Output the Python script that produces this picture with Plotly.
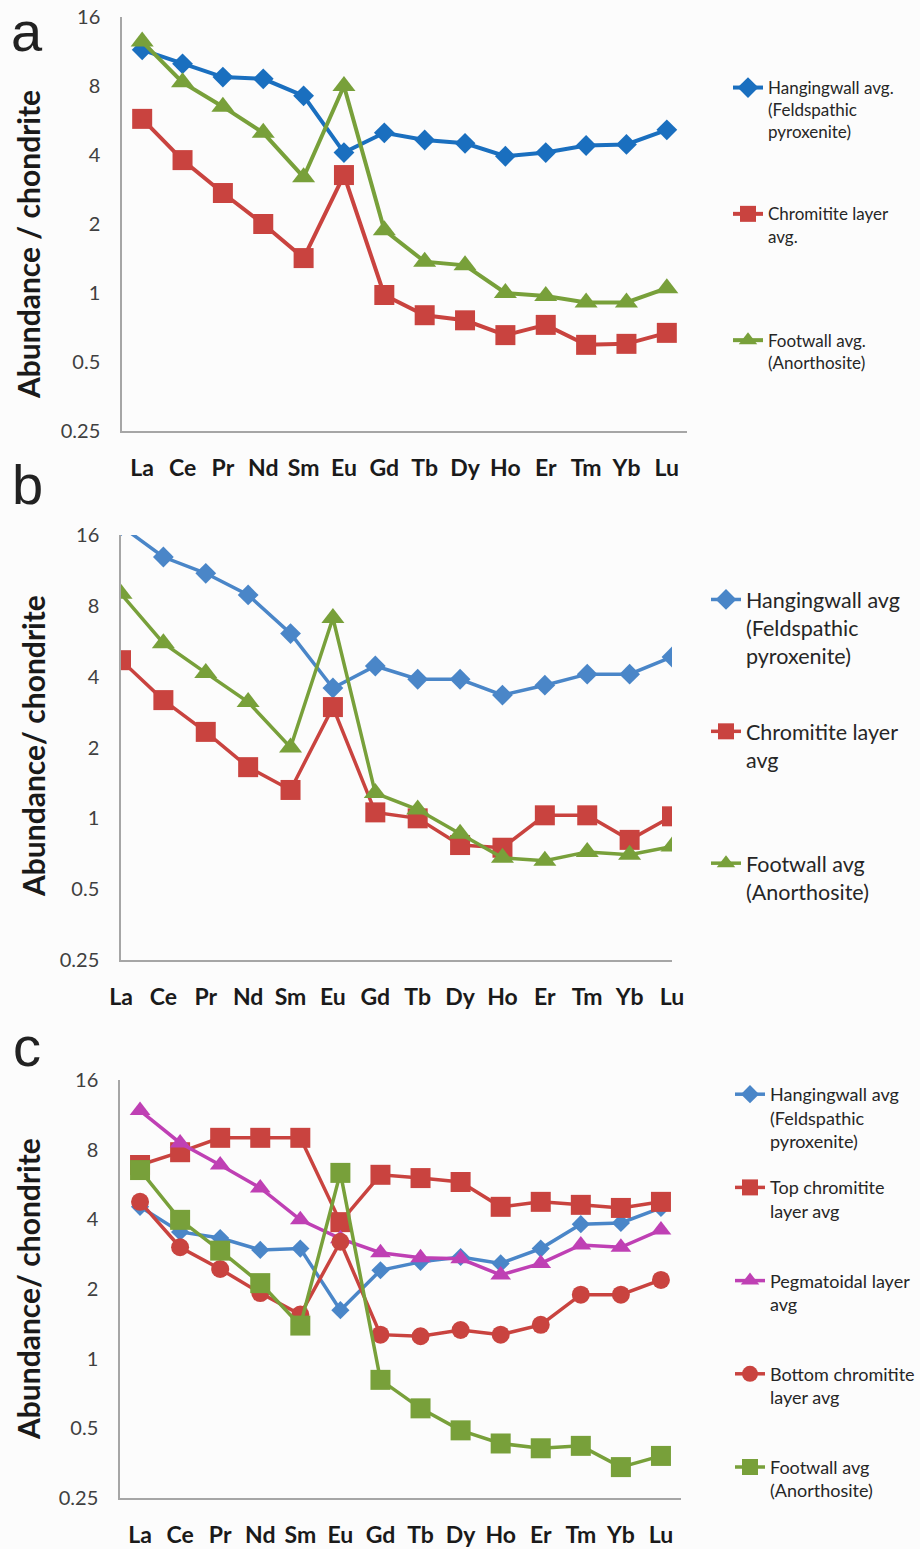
import plotly.graph_objects as go

W, H = 920, 1549

elements = ["La", "Ce", "Pr", "Nd", "Sm", "Eu", "Gd", "Tb", "Dy", "Ho", "Er", "Tm", "Yb", "Lu"]
ytick_vals = [0.25, 0.5, 1, 2, 4, 8, 16]
ytick_text = ["0.25", "0.5", "1", "2", "4", "8", "16"]

# Panel a
a_hanging = [11.5, 10.0, 8.75, 8.6, 7.25, 4.1, 5.0, 4.65, 4.5, 3.95, 4.1, 4.4, 4.45, 5.15]
a_chromitite = [5.75, 3.8, 2.73, 2.0, 1.42, 3.27, 0.98, 0.8, 0.76, 0.655, 0.726, 0.594, 0.6, 0.67]
a_footwall = [12.5, 8.3, 6.5, 5.0, 3.2, 8.0, 1.88, 1.37, 1.32, 1.0, 0.97, 0.91, 0.91, 1.05]

# Panel b
b_hanging = [17.5, 12.9, 11.0, 8.9, 6.1, 3.58, 4.44, 3.9, 3.9, 3.34, 3.68, 4.1, 4.1, 4.85]
b_chromitite = [4.7, 3.18, 2.33, 1.65, 1.32, 2.97, 1.06, 1.0, 0.77, 0.75, 1.03, 1.03, 0.81, 1.02]
b_footwall = [9.0, 5.55, 4.15, 3.12, 2.0, 7.1, 1.28, 1.09, 0.86, 0.68, 0.66, 0.72, 0.7, 0.76]

# Panel c
c_hanging = [4.53, 3.53, 3.32, 2.95, 2.99, 1.62, 2.41, 2.62, 2.75, 2.58, 2.99, 3.81, 3.86, 4.48]
c_top_chromitite = [6.87, 7.8, 9.0, 9.0, 9.0, 3.89, 6.23, 6.03, 5.8, 4.53, 4.76, 4.62, 4.48, 4.76]
c_pegmatoidal = [11.8, 8.55, 6.87, 5.47, 3.98, 3.3, 2.87, 2.73, 2.7, 2.3, 2.58, 3.1, 3.03, 3.6]
c_bottom_chromitite = [4.76, 3.03, 2.44, 1.92, 1.55, 3.2, 1.27, 1.25, 1.33, 1.27, 1.4, 1.89, 1.89, 2.19]
c_footwall = [6.53, 3.98, 2.93, 2.12, 1.39, 6.35, 0.81, 0.61, 0.49, 0.43, 0.41, 0.42, 0.34, 0.38]

BLUE_A = "#1a6fbf"
BLUE = "#4a86c8"
RED = "#c9433f"
GREEN = "#78a03a"
MAGENTA = "#bf40b4"

FONT = "Lato"
x_idx = list(range(len(elements)))

fig = go.Figure()


def add(panel, name, ys, color, symbol, size, width, legend):
    fig.add_trace(go.Scatter(
        x=x_idx, y=ys, name=name, mode="lines+markers",
        xaxis="x" if panel == 1 else f"x{panel}",
        yaxis="y" if panel == 1 else f"y{panel}",
        line=dict(color=color, width=width),
        marker=dict(color=color, symbol=symbol, size=size),
        legend=legend, legendgroup=name + str(panel),
    ))


add(1, "Hangingwall avg.<br>(Feldspathic<br>pyroxenite)", a_hanging, BLUE_A, "diamond", 16, 4, "legend")
add(1, "Chromitite layer<br>avg.<br> ", a_chromitite, RED, "square", 20, 4, "legend")
add(1, "Footwall avg.<br>(Anorthosite)<br> ", a_footwall, GREEN, "triangle-up", 20, 4, "legend")

add(2, "Hangingwall avg<br>(Feldspathic<br>pyroxenite)", b_hanging, BLUE, "diamond", 16, 3.5, "legend2")
add(2, "Chromitite layer<br>avg<br> ", b_chromitite, RED, "square", 20, 3.5, "legend2")
add(2, "Footwall avg<br>(Anorthosite)<br> ", b_footwall, GREEN, "triangle-up", 20, 3.5, "legend2")

add(3, "Hangingwall avg<br>(Feldspathic<br>pyroxenite)", c_hanging, BLUE, "diamond", 14, 3.5, "legend3")
add(3, "Top chromitite<br>layer avg<br> ", c_top_chromitite, RED, "square", 20, 3.5, "legend3")
add(3, "Pegmatoidal layer<br>avg<br> ", c_pegmatoidal, MAGENTA, "triangle-up", 18, 3.5, "legend3")
add(3, "Bottom chromitite<br>layer avg<br> ", c_bottom_chromitite, RED, "circle", 18, 3.5, "legend3")
add(3, "Footwall avg<br>(Anorthosite)<br> ", c_footwall, GREEN, "square", 20, 3.5, "legend3")


def px_x(p):
    return p / W


def px_y(p):
    return 1 - p / H


panels = [
    # (left, right, top, bottom, xrange)
    (122, 687, 17, 431, [-0.5, 13.5]),
    (121, 672, 535, 960, [0, 13]),
    (120, 681, 1080, 1498, [-0.5, 13.5]),
]

layout = dict(
    width=W, height=H,
    margin=dict(l=0, r=0, t=0, b=0, autoexpand=False),
    paper_bgcolor="#fcfcfc", plot_bgcolor="#fcfcfc",
    font=dict(family=FONT, color="#404040"),
)

for i, (l, r, t, b, xr) in enumerate(panels, start=1):
    xk = "xaxis" if i == 1 else f"xaxis{i}"
    yk = "yaxis" if i == 1 else f"yaxis{i}"
    xa = "x" if i == 1 else f"x{i}"
    ya = "y" if i == 1 else f"y{i}"
    layout[xk] = dict(
        domain=[px_x(l), px_x(r)], anchor=ya, range=xr,
        tickmode="array", tickvals=x_idx, ticktext=elements,
        showgrid=False, zeroline=False, showline=True, linecolor="#a6a6a6", linewidth=1.5,
        ticks="", ticklabelstandoff=16, automargin=False,
        tickfont=dict(family=FONT, size=23, color="#1a1a1a", weight="bold"),
    )
    layout[yk] = dict(
        domain=[px_y(b), px_y(t)], anchor=xa, type="log",
        range=[-0.60206, 1.20412],
        tickmode="array", tickvals=ytick_vals, ticktext=ytick_text,
        showgrid=False, zeroline=False, showline=True, linecolor="#a6a6a6", linewidth=1.5,
        ticks="", ticklabelstandoff=16, automargin=False,
        tickfont=dict(family=FONT, size=20, color="#404040"),
    )

layout["legend"] = dict(
    x=px_x(728), y=px_y(70), xanchor="left", yanchor="top",
    font=dict(family=FONT, size=17, color="#262626"), valign="top",
    tracegroupgap=57, bgcolor="rgba(0,0,0,0)", itemwidth=30,
)
layout["legend2"] = dict(
    x=px_x(706), y=px_y(579), xanchor="left", yanchor="top",
    font=dict(family=FONT, size=21.5, color="#262626"), valign="top",
    tracegroupgap=45, bgcolor="rgba(0,0,0,0)", itemwidth=30,
)
layout["legend3"] = dict(
    x=px_x(730), y=px_y(1076), xanchor="left", yanchor="top",
    font=dict(family=FONT, size=18, color="#262626"), valign="top",
    tracegroupgap=20, bgcolor="rgba(0,0,0,0)", itemwidth=30,
)

fig.update_layout(**layout)

# panel letters
for letter, yc in [("a", 31), ("b", 484), ("c", 1046)]:
    fig.add_annotation(
        text=letter, xref="paper", yref="paper", x=px_x(27), y=px_y(yc),
        xanchor="center", yanchor="middle", showarrow=False,
        font=dict(family="Liberation Sans", size=56, color="#222222"),
    )

# y axis titles
for title, xc, yc in [("Abundance / chondrite", 28, 245),
                      ("Abundance/ chondrite", 33, 746),
                      ("Abundance/ chondrite", 28, 1289)]:
    fig.add_annotation(
        text=title, xref="paper", yref="paper", x=px_x(xc), y=px_y(yc),
        xanchor="center", yanchor="middle", showarrow=False, textangle=-90,
        font=dict(family=FONT, size=30, color="#1a1a1a", weight="bold"),
    )

fig.write_html("out.html")
